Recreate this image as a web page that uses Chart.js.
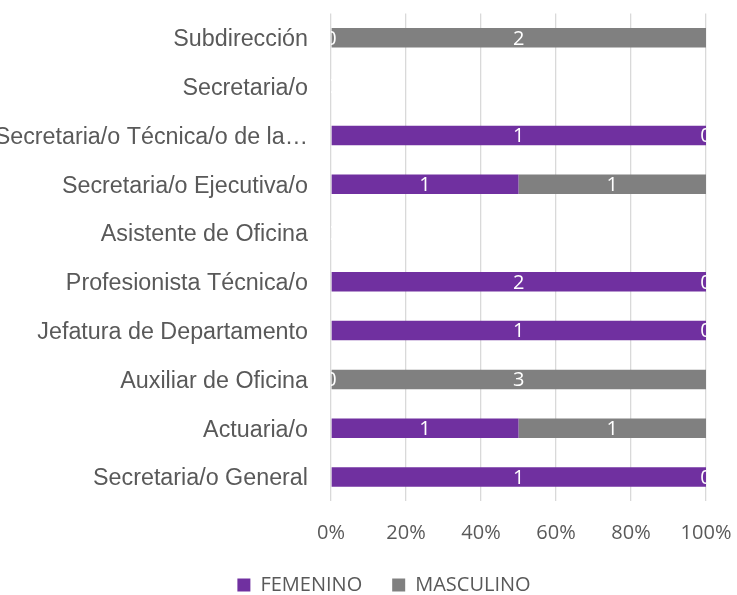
<!DOCTYPE html>
<html>
<head>
<meta charset="utf-8">
<script src="https://cdn.jsdelivr.net/npm/chart.js@4/dist/chart.umd.min.js"></script>
<style>
  html, body { margin: 0; padding: 0; background: #ffffff; }
  #wrap { width: 737px; height: 595px; }
</style>
</head>
<body>
<div id="wrap"><canvas id="c" width="737" height="595"></canvas></div>
<script>
const categories = [
  'Subdirección',
  'Secretaria/o',
  'Secretaria/o Técnica/o de la…',
  'Secretaria/o Ejecutiva/o',
  'Asistente de Oficina',
  'Profesionista Técnica/o',
  'Jefatura de Departamento',
  'Auxiliar de Oficina',
  'Actuaria/o',
  'Secretaria/o General'
];
const femenino  = [0, 0, 1, 1, 0, 2, 1, 0, 1, 1];
const masculino = [2, 0, 0, 1, 0, 0, 0, 3, 1, 0];
const xTicks = [0, 20, 40, 60, 80, 100];

const pct = (arr) => arr.map((v, i) => {
  const t = femenino[i] + masculino[i];
  return t ? v / t * 100 : 0;
});
const counts = [femenino, masculino];

const barLabels = {
  id: 'barLabels',
  afterLayout(chart) {
    if (chart.legend) { chart.legend.left += 31; chart.legend.right += 31; }
  },
  afterDatasetsDraw(chart) {
    const { ctx, chartArea } = chart;
    ctx.save();
    ctx.beginPath();
    ctx.rect(chartArea.left, chartArea.top, chartArea.right - chartArea.left, chartArea.bottom - chartArea.top);
    ctx.clip();
    ctx.font = '20px "Open Sans"';
    ctx.fillStyle = '#ffffff';
    ctx.textAlign = 'center';
    ctx.textBaseline = 'middle';
    chart.data.datasets.forEach((ds, di) => {
      const meta = chart.getDatasetMeta(di);
      meta.data.forEach((bar, i) => {
        const p = bar.getProps(['x', 'y', 'base'], true);
        ctx.fillText(String(counts[di][i]), (p.x + p.base) / 2, p.y + 1);
      });
    });
    ctx.restore();
  }
};

new Chart(document.getElementById('c'), {
  type: 'bar',
  data: {
    labels: categories,
    datasets: [
      { label: 'FEMENINO', data: pct(femenino), backgroundColor: '#7030A0',
        categoryPercentage: 1, barPercentage: 0.4 },
      { label: 'MASCULINO', data: pct(masculino), backgroundColor: '#808080',
        categoryPercentage: 1, barPercentage: 0.4 }
    ]
  },
  options: {
    indexAxis: 'y',
    responsive: false,
    animation: false,
    devicePixelRatio: 1,
    layout: { padding: { left: 0, right: 31, top: 13.4, bottom: -10 } },
    plugins: {
      legend: {
        position: 'bottom',
        labels: {
          boxWidth: 13, boxHeight: 13, padding: 30,
          color: '#595959',
          font: { family: '"Open Sans"', size: 20 }
        }
      },
      tooltip: { enabled: false }
    },
    scales: {
      x: {
        stacked: true, min: 0, max: 100,
        afterBuildTicks: (s) => { s.ticks = xTicks.map(v => ({ value: v })); },
        afterFit: (s) => { s.height = 43.6; s.paddingLeft = 0; s.paddingRight = 0; },
        grid: { color: '#d9d9d9', lineWidth: 1.3, drawTicks: false },
        border: { display: false },
        ticks: {
          padding: 20, color: '#595959',
          font: { family: '"Open Sans"', size: 20 },
          callback: (v) => v + '%', maxRotation: 0, autoSkip: false
        }
      },
      y: {
        stacked: true,
        afterFit: (s) => { s.width = 331; s.paddingTop = 0; s.paddingBottom = 0; },
        grid: { display: false, drawTicks: false },
        border: { display: false },
        ticks: {
          padding: 23, labelOffset: 2, color: '#595959', autoSkip: false,
          font: { family: '"Liberation Sans"', size: 23.3 }
        }
      }
    }
  },
  plugins: [barLabels]
});
</script>
</body>
</html>
